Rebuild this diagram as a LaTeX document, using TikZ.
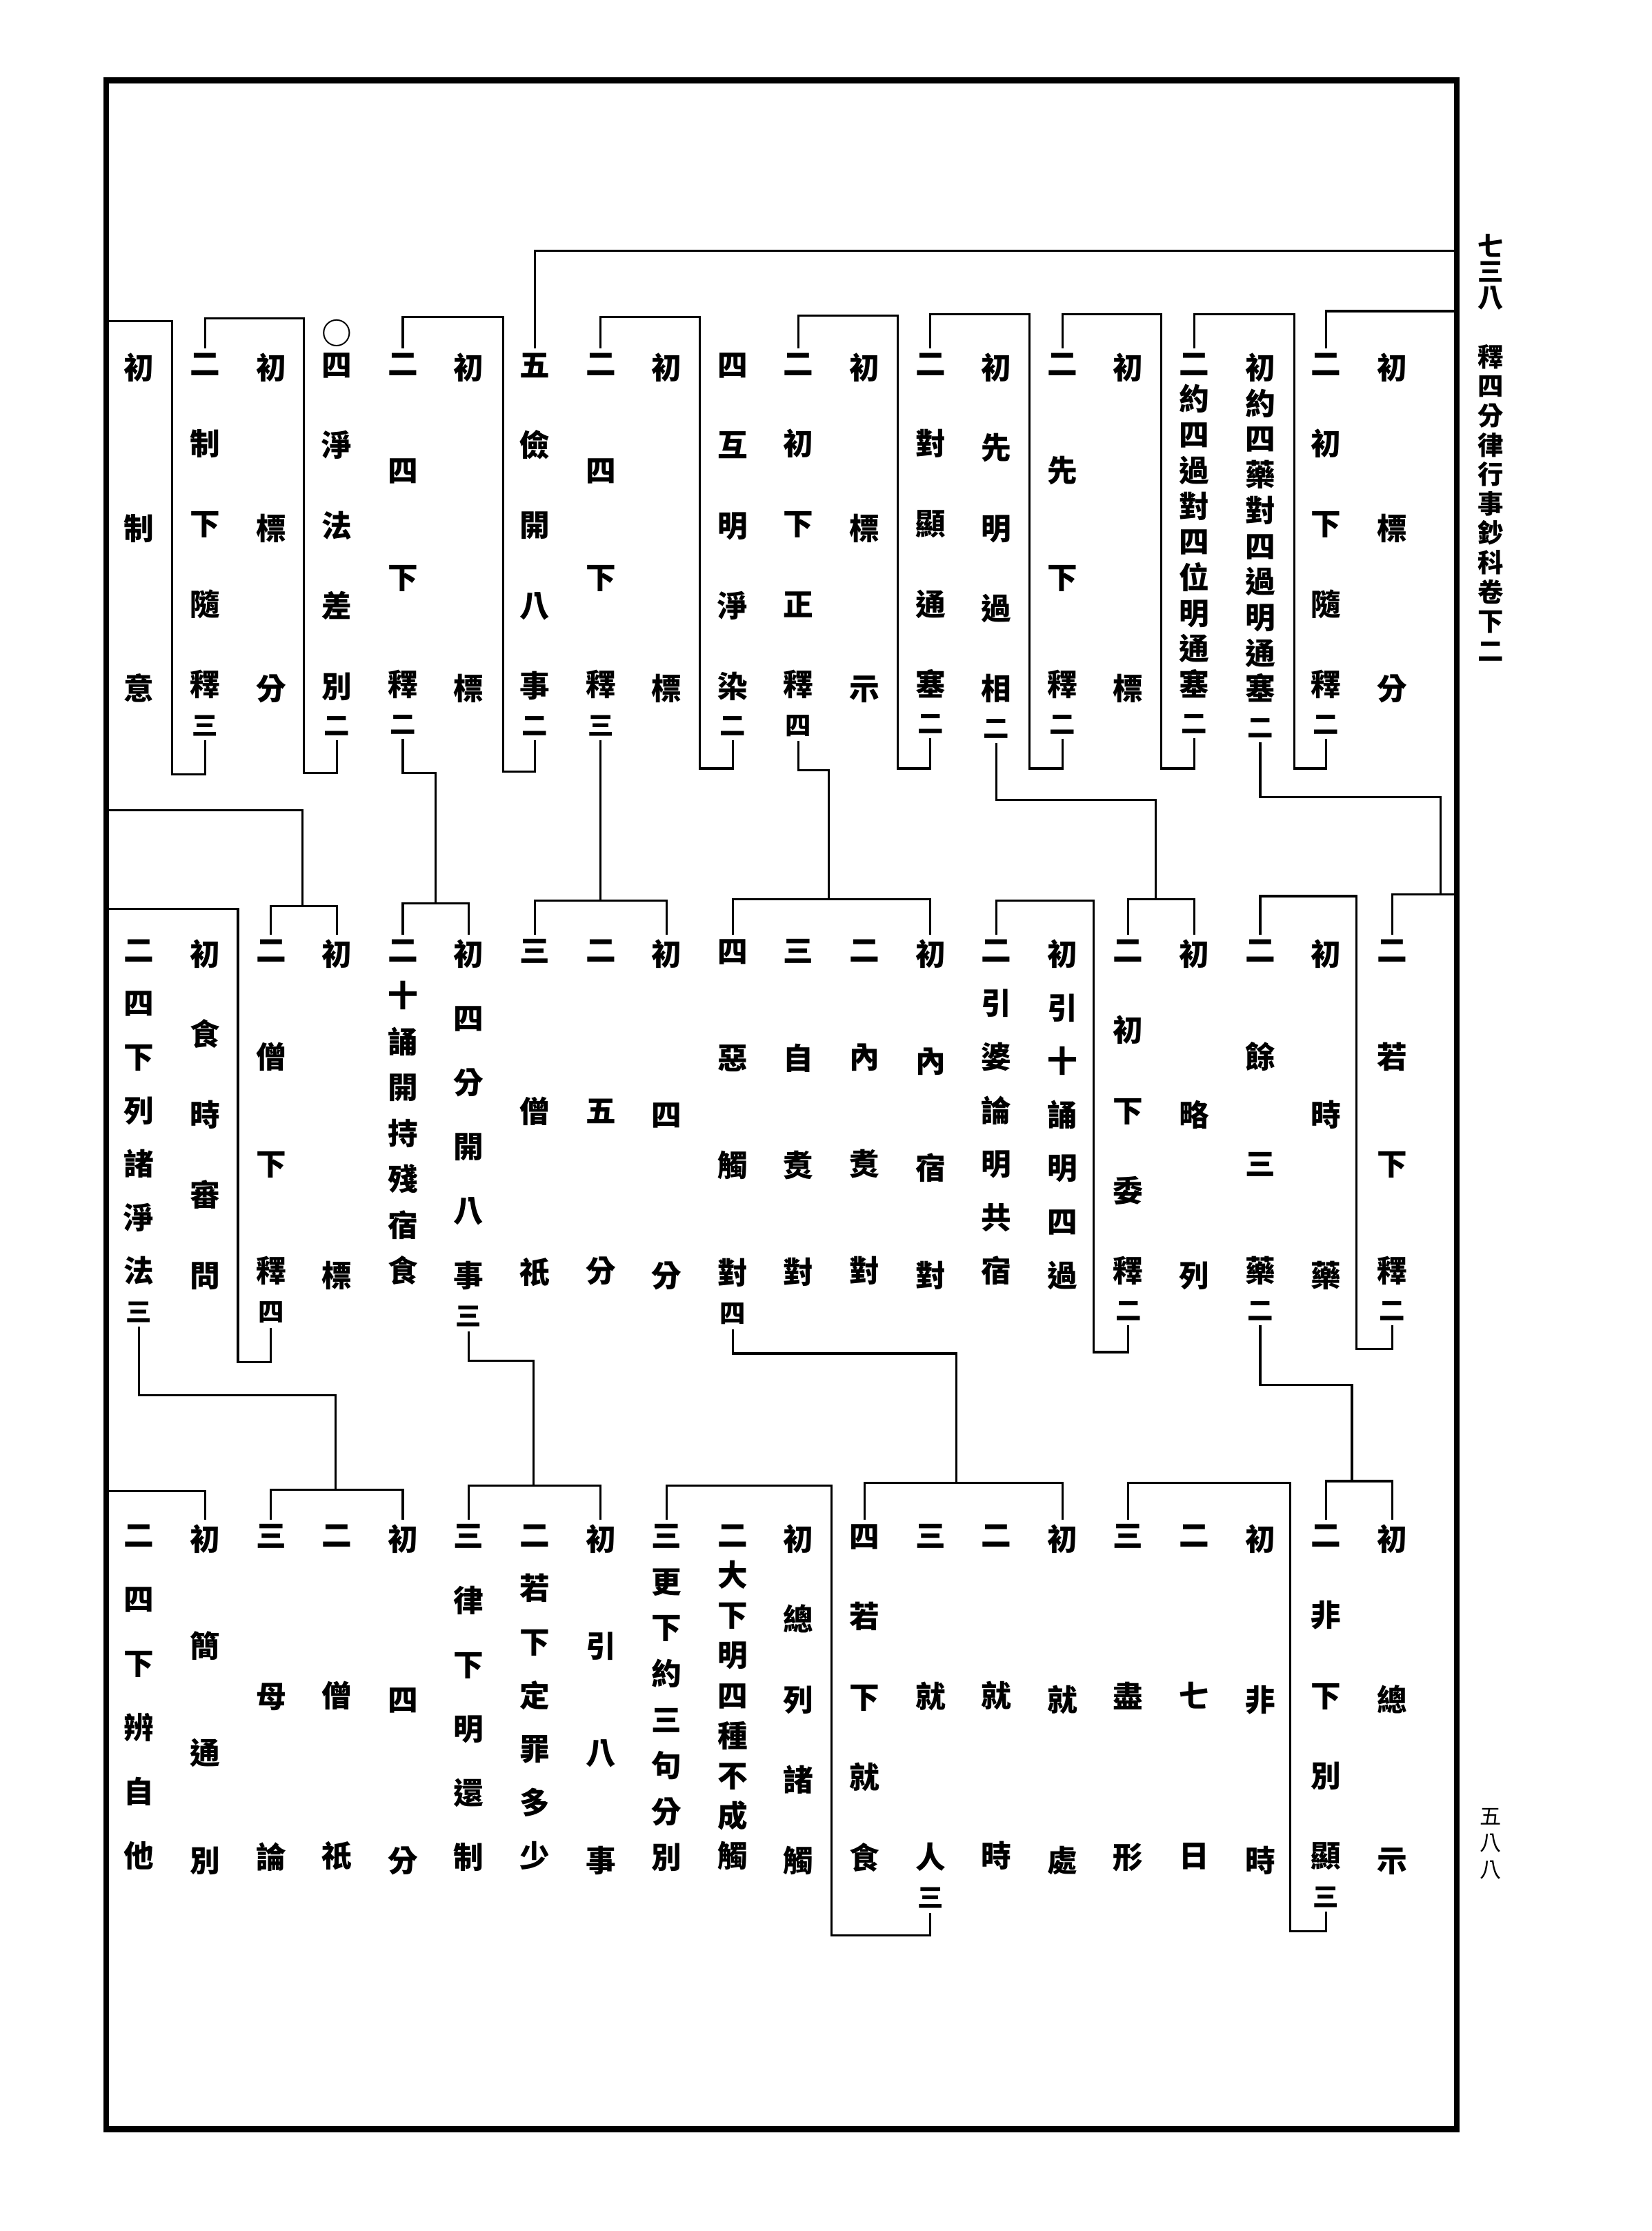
\documentclass[tikz,border=0pt]{standalone}
\usepackage{fontspec}
\newfontfamily\cjk{Noto Sans CJK TC}
\usetikzlibrary{positioning}
\newcommand{\spaltenfont}[1]{\pgfmathsetlengthmacro\zeilenabstand{224bp/(#1-1)}\cjk\bfseries\fontsize{21bp}{\zeilenabstand}\selectfont}

\begin{document}
\begin{tikzpicture}[x=1bp, y=-1bp,
    col/.style={font=\spaltenfont{#1}, align=center, anchor=north, inner sep=0pt, execute at begin node={\rule{0pt}{0.84em}}},
    num/.style={font=\cjk\bfseries\fontsize{18bp}{18bp}\selectfont, inner sep=0pt},
    kopf/.style={font=\cjk\bfseries\fontsize{18bp}{#1}\selectfont, align=center, anchor=north, inner sep=0pt},
    linie/.style={line width=1.5bp}]

    % Seite und Rahmen
    \fill[white] (0,0) rectangle (1152,1556);
    \useasboundingbox (0,0) rectangle (1152,1556);
    \draw[line width=4bp] (74,56) rectangle (1016,1485);

    % Kopfzeile und Seitenzahl
    \node (kopf1) at (1040,163) [kopf=18bp] {七\\三\\八};
    \node (kopf2) at (1040,240) [kopf=20.5bp] {釋\\四\\分\\律\\行\\事\\鈔\\科\\卷\\下\\二};
    \node (seite) at (1040,1261) [kopf=18.5bp, font=\cjk\fontsize{15bp}{18.5bp}\selectfont] {五\\八\\八};

    % Obere Reihe
    \node (t1) at (971,246) [col=3] {初\\標\\分};
    \node (t2) at (925,246) [col=5] {二\\初\\下\\隨\\釋};
    \node (t3) at (879,246) [col=10] {初\\約\\四\\藥\\對\\四\\過\\明\\通\\塞};
    \node (t4) at (833,246) [col=10] {二\\約\\四\\過\\對\\四\\位\\明\\通\\塞};
    \node (t5) at (787,246) [col=2] {初\\標};
    \node (t6) at (741,246) [col=4] {二\\先\\下\\釋};
    \node (t7) at (695,246) [col=5] {初\\先\\明\\過\\相};
    \node (t8) at (649,246) [col=5] {二\\對\\顯\\通\\塞};
    \node (t9) at (603,246) [col=3] {初\\標\\示};
    \node (t10) at (557,246) [col=5] {二\\初\\下\\正\\釋};
    \node (t11) at (511,246) [col=5] {四\\互\\明\\淨\\染};
    \node (t12) at (465,246) [col=2] {初\\標};
    \node (t13) at (419,246) [col=4] {二\\四\\下\\釋};
    \node (t14) at (373,246) [col=5] {五\\儉\\開\\八\\事};
    \node (t15) at (327,246) [col=2] {初\\標};
    \node (t16) at (281,246) [col=4] {二\\四\\下\\釋};
    \node (t17) at (235,246) [col=5] {四\\淨\\法\\差\\別};
    \node (t18) at (189,246) [col=3] {初\\標\\分};
    \node (t19) at (143,246) [col=5] {二\\制\\下\\隨\\釋};
    \node (t20) at (97,246) [col=3] {初\\制\\意};
    \node (t17k) [num, font=\cjk\bfseries\fontsize{21bp}{21bp}\selectfont, above=4bp of t17] {○};

    \node (t2n) [num, below=11bp of t2] {二};
    \node (t3n) [num, below=11bp of t3] {二};
    \node (t4n) [num, below=11bp of t4] {二};
    \node (t6n) [num, below=11bp of t6] {二};
    \node (t7n) [num, below=11bp of t7] {二};
    \node (t8n) [num, below=11bp of t8] {二};
    \node (t10n) [num, below=11bp of t10] {四};
    \node (t11n) [num, below=11bp of t11] {二};
    \node (t13n) [num, below=11bp of t13] {三};
    \node (t14n) [num, below=11bp of t14] {二};
    \node (t16n) [num, below=11bp of t16] {二};
    \node (t17n) [num, below=11bp of t17] {二};
    \node (t19n) [num, below=11bp of t19] {三};

    % Mittlere Reihe
    \node (m1) at (971,655) [col=4] {二\\若\\下\\釋};
    \node (m2) at (925,655) [col=3] {初\\時\\藥};
    \node (m3) at (879,655) [col=4] {二\\餘\\三\\藥};
    \node (m4) at (833,655) [col=3] {初\\略\\列};
    \node (m5) at (787,655) [col=5] {二\\初\\下\\委\\釋};
    \node (m6) at (741,655) [col=7] {初\\引\\十\\誦\\明\\四\\過};
    \node (m7) at (695,655) [col=7] {二\\引\\婆\\論\\明\\共\\宿};
    \node (m8) at (649,655) [col=4] {初\\內\\宿\\對};
    \node (m9) at (603,655) [col=4] {二\\內\\煑\\對};
    \node (m10) at (557,655) [col=4] {三\\自\\煑\\對};
    \node (m11) at (511,655) [col=4] {四\\惡\\觸\\對};
    \node (m12) at (465,655) [col=3] {初\\四\\分};
    \node (m13) at (419,655) [col=3] {二\\五\\分};
    \node (m14) at (373,655) [col=3] {三\\僧\\祇};
    \node (m15) at (327,655) [col=6] {初\\四\\分\\開\\八\\事};
    \node (m16) at (281,655) [col=8] {二\\十\\誦\\開\\持\\殘\\宿\\食};
    \node (m17) at (235,655) [col=2] {初\\標};
    \node (m18) at (189,655) [col=4] {二\\僧\\下\\釋};
    \node (m19) at (143,655) [col=5] {初\\食\\時\\審\\問};
    \node (m20) at (97,655) [col=7] {二\\四\\下\\列\\諸\\淨\\法};

    \node (m1n) [num, below=11bp of m1] {二};
    \node (m3n) [num, below=11bp of m3] {二};
    \node (m5n) [num, below=11bp of m5] {二};
    \node (m11n) [num, below=11bp of m11] {四};
    \node (m15n) [num, below=11bp of m15] {三};
    \node (m18n) [num, below=11bp of m18] {四};
    \node (m20n) [num, below=11bp of m20] {三};

    % Untere Reihe
    \node (b1) at (971,1063) [col=3] {初\\總\\示};
    \node (b2) at (925,1063) [col=5] {二\\非\\下\\別\\顯};
    \node (b3) at (879,1063) [col=3] {初\\非\\時};
    \node (b4) at (833,1063) [col=3] {二\\七\\日};
    \node (b5) at (787,1063) [col=3] {三\\盡\\形};
    \node (b6) at (741,1063) [col=3] {初\\就\\處};
    \node (b7) at (695,1063) [col=3] {二\\就\\時};
    \node (b8) at (649,1063) [col=3] {三\\就\\人};
    \node (b9) at (603,1063) [col=5] {四\\若\\下\\就\\食};
    \node (b10) at (557,1063) [col=5] {初\\總\\列\\諸\\觸};
    \node (b11) at (511,1063) [col=9] {二\\大\\下\\明\\四\\種\\不\\成\\觸};
    \node (b12) at (465,1063) [col=8] {三\\更\\下\\約\\三\\句\\分\\別};
    \node (b13) at (419,1063) [col=4] {初\\引\\八\\事};
    \node (b14) at (373,1063) [col=7] {二\\若\\下\\定\\罪\\多\\少};
    \node (b15) at (327,1063) [col=6] {三\\律\\下\\明\\還\\制};
    \node (b16) at (281,1063) [col=3] {初\\四\\分};
    \node (b17) at (235,1063) [col=3] {二\\僧\\祇};
    \node (b18) at (189,1063) [col=3] {三\\母\\論};
    \node (b19) at (143,1063) [col=4] {初\\簡\\通\\別};
    \node (b20) at (97,1063) [col=6] {二\\四\\下\\辨\\自\\他};

    \node (b2n) [num, below=11bp of b2] {三};
    \node (b8n) [num, below=11bp of b8] {三};

    % Enden am Rahmen
    \coordinate (r1) at (1016,175);
    \coordinate (r2) at (1016,217);
    \coordinate (r3) at (1016,624);
    \coordinate (l1) at (74,224);
    \coordinate (l2) at (74,565);
    \coordinate (l3) at (74,634);
    \coordinate (l4) at (74,1040);

    % Klammern obere Reihe
    \draw[linie] ([yshift=3bp]t14.north) |- (r1);
    \draw[linie] ([yshift=3bp]t2.north) |- (r2);
    \draw[linie] ([yshift=-3bp]t2n.south) |- (903,536) |- (t4.north |- 0,219) -- ([yshift=3bp]t4.north);
    \draw[linie] ([yshift=-3bp]t4n.south) |- (810,536) |- (t6.north |- 0,219) -- ([yshift=3bp]t6.north);
    \draw[linie] ([yshift=-3bp]t6n.south) |- (718,536) |- (t8.north |- 0,219) -- ([yshift=3bp]t8.north);
    \draw[linie] ([yshift=-3bp]t8n.south) |- (626,536) |- (t10.north |- 0,220) -- ([yshift=3bp]t10.north);
    \draw[linie] ([yshift=-3bp]t11n.south) |- (488,536) |- (t13.north |- 0,221) -- ([yshift=3bp]t13.north);
    \draw[linie] ([yshift=-3bp]t14n.south) |- (351,538) |- (t16.north |- 0,221) -- ([yshift=3bp]t16.north);
    \draw[linie] ([yshift=-3bp]t17n.south) |- (212,539) |- (t19.north |- 0,222) -- ([yshift=3bp]t19.north);
    \draw[linie] ([yshift=-3bp]t19n.south) |- (120,540) |- (l1);

    % Verbindungen oben -> Mitte
    \draw[linie] ([yshift=-3bp]t3n.south) |- (1005,556) -- (1005,624);
    \draw[linie] ([yshift=3bp]m1.north) |- (r3);
    \draw[linie] ([yshift=-3bp]t7n.south) |- (806,558) -- (806,627);
    \draw[linie] ([yshift=3bp]m5.north) |- (m4.north |- 0,627) -- ([yshift=3bp]m4.north);
    \draw[linie] ([yshift=-3bp]t10n.south) |- (578,537) -- (578,627);
    \draw[linie] ([yshift=3bp]m11.north) |- (m8.north |- 0,627) -- ([yshift=3bp]m8.north);
    \draw[linie] ([yshift=-3bp]t13n.south) -- (t13n.south |- 0,628);
    \draw[linie] ([yshift=3bp]m14.north) |- (m12.north |- 0,628) -- ([yshift=3bp]m12.north);
    \draw[linie] ([yshift=-3bp]t16n.south) |- (304,539) -- (304,630);
    \draw[linie] ([yshift=3bp]m16.north) |- (m15.north |- 0,630) -- ([yshift=3bp]m15.north);
    \draw[linie] (l2) -| (211,632);
    \draw[linie] ([yshift=3bp]m18.north) |- (m17.north |- 0,632) -- ([yshift=3bp]m17.north);

    % Klammern mittlere Reihe
    \draw[linie] ([yshift=-3bp]m1n.south) |- (946,941) |- (m3.north |- 0,625) -- ([yshift=3bp]m3.north);
    \draw[linie] ([yshift=-3bp]m5n.south) |- (763,943) |- (m7.north |- 0,628) -- ([yshift=3bp]m7.north);
    \draw[linie] ([yshift=-3bp]m18n.south) |- (166,950) |- (l3);

    % Verbindungen Mitte -> unten
    \draw[linie] ([yshift=-3bp]m3n.south) |- (943,966) -- (943,1033);
    \draw[linie] ([yshift=3bp]b2.north) |- (b1.north |- 0,1033) -- ([yshift=3bp]b1.north);
    \draw[linie] ([yshift=-3bp]m11n.south) |- (667,944) -- (667,1034);
    \draw[linie] ([yshift=3bp]b9.north) |- (b6.north |- 0,1034) -- ([yshift=3bp]b6.north);
    \draw[linie] ([yshift=-3bp]m15n.south) |- (372,949) -- (372,1036);
    \draw[linie] ([yshift=3bp]b15.north) |- (b13.north |- 0,1036) -- ([yshift=3bp]b13.north);
    \draw[linie] ([yshift=-3bp]m20n.south) |- (234,973) -- (234,1039);
    \draw[linie] ([yshift=3bp]b18.north) |- (b16.north |- 0,1039) -- ([yshift=3bp]b16.north);

    % Klammern untere Reihe
    \draw[linie] ([yshift=-3bp]b2n.south) |- (900,1347) |- (b5.north |- 0,1034) -- ([yshift=3bp]b5.north);
    \draw[linie] ([yshift=-3bp]b8n.south) |- (580,1350) |- (b12.north |- 0,1036) -- ([yshift=3bp]b12.north);
    \draw[linie] (l4) -| ([yshift=3bp]b19.north);

\end{tikzpicture}
\end{document}
